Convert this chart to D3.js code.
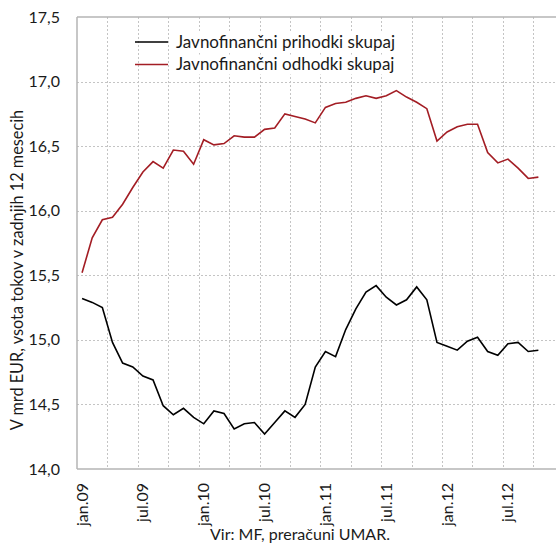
<!DOCTYPE html>
<html>
<head>
<meta charset="utf-8">
<script src="https://cdn.jsdelivr.net/npm/d3@7"></script>
<style>
  html, body { margin: 0; padding: 0; background: #fff; overflow: hidden; }
  svg { display: block; font-family: Lato, "Open Sans", sans-serif; }
</style>
</head>
<body>
<svg id="chart" width="556" height="545"></svg>
<script>
'use strict';

/* months jan.09 – dec.12 (axis runs to dec.12, data ends okt.12) */
const monthNames = ['jan', 'feb', 'mar', 'apr', 'maj', 'jun', 'jul', 'avg', 'sep', 'okt', 'nov', 'dec'];
const years = ['09', '10', '11', '12'];
const months = years.flatMap(y => monthNames.map(m => `${m}.${y}`));

const tickLabels = ['jan.09', 'jul.09', 'jan.10', 'jul.10', 'jan.11', 'jul.11', 'jan.12', 'jul.12'];
const yTicks = [14.0, 14.5, 15.0, 15.5, 16.0, 16.5, 17.0, 17.5];

const seriesNames = ['Javnofinančni prihodki skupaj', 'Javnofinančni odhodki skupaj'];

// V mrd EUR, vsota tokov v zadnjih 12 mesecih
const prihodki = [
  15.32, 15.29, 15.25, 14.98, 14.82, 14.79, 14.72, 14.69, 14.49, 14.42, 14.47, 14.40,
  14.35, 14.45, 14.43, 14.31, 14.35, 14.36, 14.27, 14.36, 14.45, 14.40, 14.50, 14.79,
  14.91, 14.87, 15.08, 15.24, 15.37, 15.42, 15.33, 15.27, 15.31, 15.41, 15.31, 14.98,
  14.95, 14.92, 14.99, 15.02, 14.91, 14.88, 14.97, 14.98, 14.91, 14.92
];
const odhodki = [
  15.52, 15.79, 15.93, 15.95, 16.05, 16.18, 16.30, 16.38, 16.33, 16.47, 16.46, 16.36,
  16.55, 16.51, 16.52, 16.58, 16.57, 16.57, 16.63, 16.64, 16.75, 16.73, 16.71, 16.68,
  16.80, 16.83, 16.84, 16.87, 16.89, 16.87, 16.89, 16.93, 16.88, 16.84, 16.79, 16.54,
  16.61, 16.65, 16.67, 16.67, 16.45, 16.37, 16.40, 16.33, 16.25, 16.26
];

const colors = ['#000000', '#a31d24'];

const svg = d3.select('#chart');
const plotL = 77, plotT = 17, plotB = 469, step = 10.14;
const plotR = plotL + months.length * step;

const x = d3.scaleBand().domain(months).range([plotL, plotR]).padding(0);
const y = d3.scaleLinear().domain([14, 17.5]).range([plotB, plotT]);
const cx = m => x(m) + x.bandwidth() / 2;
const fmt = v => d3.format('.1f')(v).replace('.', ',');

/* grid */
const grid = svg.append('g').attr('stroke', '#c4c4c4').attr('stroke-width', 1).attr('stroke-dasharray', '2,2');
grid.selectAll('line.h').data(yTicks.slice(1, -1)).join('line')
  .attr('x1', plotL).attr('x2', plotR)
  .attr('y1', d => Math.round(y(d)) + 0.5).attr('y2', d => Math.round(y(d)) + 0.5);
grid.selectAll('line.v').data(months.filter((m, i) => i > 0 && i % 3 === 0)).join('line')
  .attr('x1', d => Math.round(x(d)) + 0.5).attr('x2', d => Math.round(x(d)) + 0.5)
  .attr('y1', plotT).attr('y2', plotB);

/* frame */
const frame = svg.append('g').attr('stroke', '#b4b4b4').attr('stroke-width', 1.5).attr('fill', 'none');
frame.append('line').attr('x1', plotL).attr('x2', plotR).attr('y1', y(17.5)).attr('y2', y(17.5));
frame.append('line').attr('x1', plotL).attr('x2', plotR).attr('y1', y(14)).attr('y2', y(14));
frame.append('line').attr('x1', plotL).attr('x2', plotL).attr('y1', plotT).attr('y2', plotB);

/* y axis labels */
svg.append('g').selectAll('text').data(yTicks).join('text')
  .attr('x', 60).attr('y', d => y(d)).attr('dy', '0.35em')
  .attr('text-anchor', 'end').attr('font-size', 16).attr('fill', '#1a1a1a')
  .text(fmt);

svg.append('text')
  .attr('transform', `translate(23,${270}) rotate(-90)`)
  .attr('text-anchor', 'middle').attr('font-size', 16.3).attr('fill', '#1a1a1a')
  .text('V mrd EUR, vsota tokov v zadnjih 12 mesecih');

/* x axis labels */
svg.append('g').selectAll('text').data(tickLabels).join('text')
  .attr('transform', d => `translate(${cx(d) + 5.5},483) rotate(-90)`)
  .attr('text-anchor', 'end').attr('font-size', 16).attr('fill', '#1a1a1a')
  .text(d => d);

svg.append('text')
  .attr('x', 300).attr('y', 540).attr('text-anchor', 'middle')
  .attr('font-size', 16).attr('fill', '#1a1a1a')
  .text('Vir: MF, preračuni UMAR.');

/* lines */
const line = d3.line().x((d, i) => cx(months[i])).y(d => y(d));
[prihodki, odhodki].forEach((s, k) => {
  svg.append('path').datum(s)
    .attr('d', line).attr('fill', 'none')
    .attr('stroke', colors[k]).attr('stroke-width', 1.6).attr('stroke-linejoin', 'miter');
});

/* legend */
const lg = svg.append('g').attr('transform', 'translate(135,42)');
seriesNames.forEach((n, k) => {
  const row = lg.append('g').attr('transform', `translate(0,${k * 22.5})`);
  row.append('line').attr('x1', 0).attr('x2', 33).attr('stroke', colors[k]).attr('stroke-width', 1.6);
  row.append('rect').attr('x', 36).attr('y', -10).attr('width', 235).attr('height', 20).attr('fill', '#fff');
  row.append('text').attr('x', 41).attr('dy', '0.35em').attr('font-size', 17).attr('fill', '#1a1a1a').text(n);
});
</script>
</body>
</html>
